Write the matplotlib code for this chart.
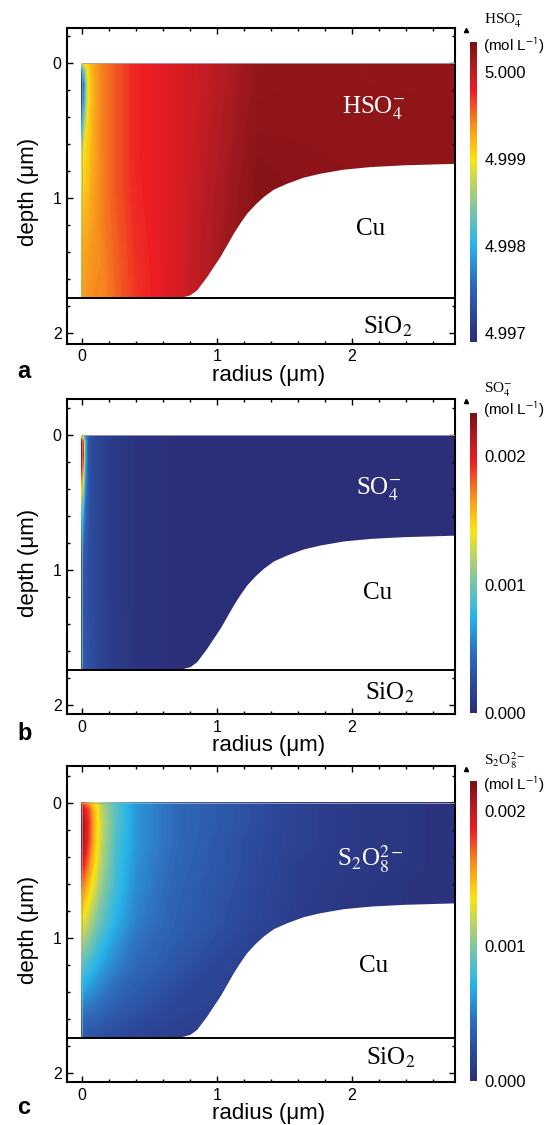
import numpy as np
import matplotlib
matplotlib.use("Agg")
import matplotlib.pyplot as plt
from matplotlib.colors import LinearSegmentedColormap, Normalize
from matplotlib.cm import ScalarMappable
from matplotlib.ticker import MultipleLocator
from matplotlib.lines import Line2D

plt.rcParams["font.family"] = ["Liberation Sans", "DejaVu Sans"]
plt.rcParams["mathtext.fontset"] = "stix"

# sample grid (um) of the concentration maps
radius = [0, 0.01, 0.025, 0.05, 0.09, 0.15, 0.25, 0.4, 0.7, 1.0, 1.3, 1.6, 2.0, 2.8]
depth = [0, 0.05, 0.15, 0.3, 0.45, 0.65, 0.9, 1.2, 1.5, 1.74]

# HSO4- : excess over 5 mol/L, in mmol/L (rows = depth, cols = radius)
hso4_excess_mM = [
    [-1.21, -1.10, -0.99, -0.90, -0.73, -0.57, -0.42, -0.24, -0.14, 0.02, 0.20, 0.22, 0.22, 0.21],
    [-2.30, -2.00, -1.45, -0.95, -0.73, -0.57, -0.42, -0.24, -0.14, 0.02, 0.20, 0.22, 0.22, 0.21],
    [-3.00, -2.80, -1.95, -1.00, -0.76, -0.57, -0.42, -0.24, -0.14, 0.02, 0.21, 0.22, 0.22, 0.21],
    [-2.80, -2.55, -1.75, -0.98, -0.76, -0.57, -0.42, -0.24, -0.14, 0.03, 0.22, 0.23, 0.22, 0.22],
    [-2.10, -1.85, -1.35, -0.93, -0.73, -0.57, -0.42, -0.24, -0.14, 0.04, 0.23, 0.23, 0.23, 0.22],
    [-1.20, -1.10, -0.98, -0.88, -0.73, -0.57, -0.42, -0.24, -0.14, 0.05, 0.25, 0.24, 0.23, 0.23],
    [-0.97, -0.94, -0.90, -0.83, -0.69, -0.57, -0.42, -0.25, -0.13, 0.07, 0.27, 0.25, 0.24, 0.23],
    [-0.83, -0.80, -0.76, -0.73, -0.66, -0.57, -0.44, -0.27, -0.12, 0.09, 0.28, 0.26, 0.24, 0.23],
    [-0.73, -0.73, -0.69, -0.66, -0.62, -0.59, -0.46, -0.29, -0.12, 0.10, 0.28, 0.26, 0.24, 0.23],
    [-0.69, -0.69, -0.66, -0.62, -0.59, -0.59, -0.48, -0.30, -0.12, 0.10, 0.28, 0.26, 0.24, 0.23],
]

# SO4- in mmol/L
so4_mM = [
    [1.10, 1.00, 0.60, 0.32, 0.23, 0.16, 0.10, 0.05, 0.02, 0, 0, 0, 0, 0],
    [2.21, 1.85, 0.75, 0.30, 0.22, 0.16, 0.10, 0.05, 0.02, 0, 0, 0, 0, 0],
    [2.25, 1.95, 0.72, 0.30, 0.22, 0.16, 0.10, 0.05, 0.02, 0, 0, 0, 0, 0],
    [1.80, 1.50, 0.65, 0.30, 0.22, 0.16, 0.10, 0.05, 0.02, 0, 0, 0, 0, 0],
    [1.25, 1.05, 0.52, 0.29, 0.22, 0.16, 0.10, 0.05, 0.02, 0, 0, 0, 0, 0],
    [0.70, 0.60, 0.42, 0.28, 0.22, 0.16, 0.10, 0.05, 0.02, 0, 0, 0, 0, 0],
    [0.38, 0.36, 0.32, 0.27, 0.22, 0.16, 0.10, 0.05, 0.02, 0, 0, 0, 0, 0],
    [0.33, 0.32, 0.30, 0.27, 0.22, 0.16, 0.10, 0.05, 0.02, 0, 0, 0, 0, 0],
    [0.35, 0.34, 0.31, 0.28, 0.23, 0.17, 0.11, 0.05, 0.02, 0, 0, 0, 0, 0],
    [0.36, 0.35, 0.32, 0.29, 0.24, 0.17, 0.11, 0.05, 0.02, 0, 0, 0, 0, 0],
]

# S2O8 2- in mmol/L
s2o8_mM = [
    [1.73, 1.71, 1.64, 1.55, 1.38, 1.11, 0.84, 0.60, 0.42, 0.33, 0.24, 0.16, 0.09, 0.04],
    [2.00, 1.95, 1.86, 1.75, 1.47, 1.15, 0.87, 0.60, 0.42, 0.33, 0.24, 0.16, 0.09, 0.04],
    [2.11, 2.06, 1.95, 1.82, 1.51, 1.18, 0.87, 0.60, 0.42, 0.33, 0.24, 0.16, 0.09, 0.04],
    [2.09, 2.04, 1.93, 1.78, 1.49, 1.15, 0.84, 0.60, 0.42, 0.31, 0.22, 0.16, 0.09, 0.04],
    [1.91, 1.86, 1.78, 1.64, 1.40, 1.11, 0.82, 0.58, 0.40, 0.31, 0.22, 0.13, 0.09, 0.04],
    [1.60, 1.58, 1.51, 1.42, 1.24, 1.02, 0.78, 0.56, 0.38, 0.29, 0.20, 0.13, 0.07, 0.04],
    [1.29, 1.27, 1.22, 1.15, 1.02, 0.87, 0.69, 0.51, 0.36, 0.27, 0.18, 0.11, 0.07, 0.04],
    [0.89, 0.87, 0.84, 0.80, 0.73, 0.64, 0.53, 0.42, 0.29, 0.20, 0.13, 0.09, 0.07, 0.04],
    [0.53, 0.53, 0.51, 0.49, 0.47, 0.42, 0.36, 0.29, 0.20, 0.16, 0.11, 0.07, 0.04, 0.04],
    [0.29, 0.29, 0.29, 0.27, 0.27, 0.24, 0.22, 0.18, 0.13, 0.11, 0.09, 0.07, 0.04, 0.04],
]

# Cu surface profile (radius, depth in um) and SiO2 interface
cu_r = [0.70, 0.753, 0.802, 0.852, 0.926, 0.975, 1.024, 1.074, 1.123, 1.173, 1.222,
        1.284, 1.345, 1.42, 1.519, 1.642, 1.765, 1.938, 2.136, 2.383, 2.8]
cu_depth = [1.74, 1.729, 1.716, 1.679, 1.58, 1.506, 1.432, 1.346, 1.259, 1.181, 1.111,
            1.044, 0.988, 0.933, 0.889, 0.844, 0.815, 0.785, 0.766, 0.753, 0.741]
sio2_depth = 1.74

hso4 = 5.0 + np.array(hso4_excess_mM) * 1e-3
so4 = np.array(so4_mM) * 1e-3
s2o8 = np.array(s2o8_mM) * 1e-3

cmap = LinearSegmentedColormap.from_list("comsol_rainbow", list(zip(
    [0.0, 0.1, 0.2, 0.32, 0.42, 0.52, 0.61, 0.72, 0.84, 0.92, 1.0],
    ["#2b2e78", "#2c4a9c", "#2f6dbc", "#27b4ea", "#6cc3b4", "#b5d26a",
     "#fde30f", "#f7941d", "#ed1c24", "#b01c22", "#7a1014"])))

W, H = 546, 1125

panels = [
    dict(conc=hso4, vmin=4.9969, vmax=5.00034, ticks=[4.997, 4.998, 4.999, 5.000],
         species=r"HSO$_4^{-}$", box=(28, 343.5), ylim=(2.077, -0.261), cb=(42.3, 341.7),
         tri=29.5, sp_y=21, mol_y=46, letter="a", letter_y=378,
         name_xy=(2.16, 0.33), cu_xy=(2.14, 1.23), sio_xy=(2.27, 1.95)),
    dict(conc=so4, vmin=0.0, vmax=0.00233, ticks=[0.000, 0.001, 0.002],
         species=r"SO$_4^{-}$", box=(399, 714), ylim=(2.067, -0.267), cb=(413.3, 713.3),
         tri=400.7, sp_y=390, mol_y=410, letter="b", letter_y=740,
         name_xy=(2.2, 0.40), cu_xy=(2.19, 1.17), sio_xy=(2.28, 1.91)),
    dict(conc=s2o8, vmin=0.0, vmax=0.00222, ticks=[0.000, 0.001, 0.002],
         species=r"S$_2$O$_8^{2-}$", box=(766, 1082), ylim=(2.069, -0.272), cb=(781, 1081),
         tri=768.7, sp_y=761, mol_y=785, letter="c", letter_y=1114,
         name_xy=(2.14, 0.42), cu_xy=(2.16, 1.21), sio_xy=(2.29, 1.89)),
]

fig = plt.figure(figsize=(W / 100, H / 100), dpi=100)
serif = ["Liberation Serif", "DejaVu Serif"]

for p in panels:
    top, bottom = p["box"]
    ax = fig.add_axes([67.3 / W, 1 - bottom / H, (455 - 67.3) / W, (bottom - top) / H])
    norm = Normalize(p["vmin"], p["vmax"])
    ax.contourf(radius, depth, p["conc"], levels=np.linspace(p["vmin"], p["vmax"], 200),
                cmap=cmap, norm=norm, extend="both", antialiased=False, zorder=1)
    ax.fill_between(cu_r, cu_depth, sio2_depth, color="white", lw=0, zorder=2)
    ax.plot([0, 3], [0, 0], color="0.65", lw=0.6, zorder=3)
    ax.plot([0, 0], [0, sio2_depth], color="0.65", lw=0.5, zorder=3)
    ax.axhline(sio2_depth, color="black", lw=1.4, zorder=3)

    ax.set_xlim(-0.107, 2.765)
    ax.set_ylim(*p["ylim"])
    ax.set_xticks([0, 1, 2])
    ax.set_yticks([0, 1, 2])
    ax.xaxis.set_minor_locator(MultipleLocator(0.2))
    ax.yaxis.set_minor_locator(MultipleLocator(0.2))
    ax.tick_params(which="both", direction="in", top=True, right=True, width=1)
    ax.tick_params(which="major", length=4.5, labelsize=11.5, pad=4)
    ax.tick_params(which="minor", length=2.5)
    for s in ax.spines.values():
        s.set_linewidth(1.5)

    ax.set_xlabel("radius (μm)", fontsize=16, va="center")
    ax.xaxis.set_label_coords(0.519, -32 / (bottom - top))
    ax.set_ylabel("depth (μm)", fontsize=16, va="center")
    ax.yaxis.set_label_coords(-0.101, 0.48)

    nx, ny = p["name_xy"]
    ax.text(nx, ny, p["species"], color="white", fontsize=18, family=serif,
            ha="center", va="center", zorder=4)
    ax.text(*p["cu_xy"], "Cu", color="black", fontsize=18, family=serif,
            ha="center", va="center", zorder=4)
    ax.text(*p["sio_xy"], r"SiO$_2$", color="black", fontsize=18, family=serif,
            ha="center", va="center", zorder=4)

    cb_top, cb_bot = p["cb"]
    cax = fig.add_axes([469.5 / W, 1 - cb_bot / H, 7 / W, (cb_bot - cb_top) / H])
    cb = fig.colorbar(ScalarMappable(norm=norm, cmap=cmap), cax=cax, ticks=p["ticks"])
    cb.outline.set_visible(False)
    cax.tick_params(length=0, pad=5.5, labelsize=12)
    cax.set_yticklabels([f"{t:.3f}" for t in p["ticks"]])

    fig.add_artist(Line2D([466 / W], [1 - p["tri"] / H], marker="^", ms=3,
                          color="black", transform=fig.transFigure))
    fig.text(484 / W, 1 - p["sp_y"] / H, p["species"], family=serif, fontsize=11,
             ha="left", va="center")
    fig.text(483 / W, 1 - p["mol_y"] / H, r"(mol L$^{\mathsf{-1}}$)", fontsize=11,
             ha="left", va="center")
    fig.text(17 / W, 1 - p["letter_y"] / H, p["letter"], fontsize=17,
             fontweight="bold", ha="left", va="baseline")

fig.savefig("out.png", dpi=100)
